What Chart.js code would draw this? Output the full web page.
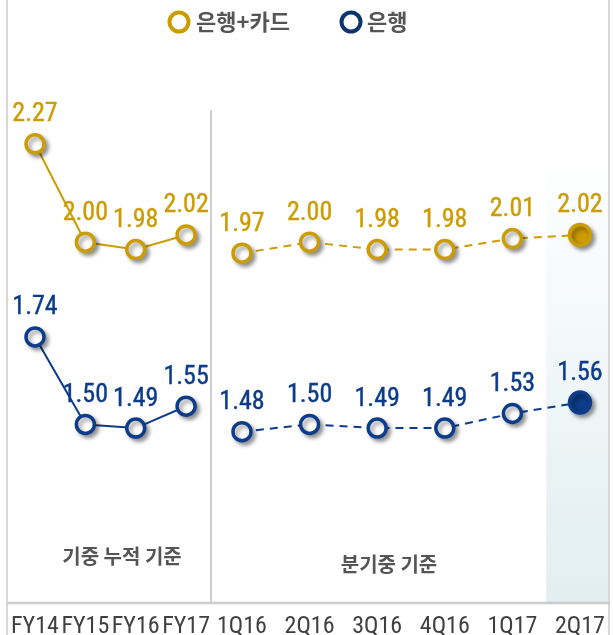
<!DOCTYPE html>
<html>
<head>
<meta charset="utf-8">
<script src="https://cdn.jsdelivr.net/npm/chart.js@4"></script>
<style>
  html, body { margin: 0; padding: 0; background: #ffffff; }
  #wrap { width: 613px; height: 635px; }
</style>
</head>
<body>
<div id="wrap"><canvas id="c" width="613" height="635"></canvas></div>
<script>
// ---- data ----
const categories = ['FY14','FY15','FY16','FY17','1Q16','2Q16','3Q16','4Q16','1Q17','2Q17'];
const bankCard = [2.27, 2.00, 1.98, 2.02, 1.97, 2.00, 1.98, 1.98, 2.01, 2.02];
const bank     = [1.74, 1.50, 1.49, 1.55, 1.48, 1.50, 1.49, 1.49, 1.53, 1.56];
const seriesNames = ['은행+카드', '은행'];
const groupLabels = ['기중 누적 기준', '분기중 기준'];

// ---- style / layout ----
const GOLD = '#cc9c05';
const BLUE = '#0d3c8a';
const NARROW = "'Liberation Sans Narrow', 'Roboto Condensed', 'DejaVu Sans Condensed', sans-serif";
const KR = "'Noto Sans CJK KR', 'Noto Sans', sans-serif";

// x layout: cumulative group is narrower than the quarterly group
function xPos(i) { return i < 4 ? i * 0.748 : 3.074 + (i - 4) * 1.004; }
const toPts = arr => arr.map((v, i) => ({ x: xPos(i), y: v }));

function lineDs(values, color) {
  return {
    data: toPts(values),
    borderColor: color,
    borderWidth: 2,
    pointRadius: 0,
    pointHoverRadius: 0,
    fill: false,
    tension: 0,
    segment: {
      borderColor: c => c.p0DataIndex === 3 ? 'rgba(0,0,0,0)' : color,
      borderDash: c => c.p0DataIndex >= 4 ? [8, 6] : undefined
    },
    order: 2
  };
}
function pointDs(values, color) {
  const n = values.length;
  return {
    data: toPts(values),
    showLine: false,
    borderColor: color,
    pointBorderColor: color,
    pointBackgroundColor: values.map((v, i) => i === n - 1 ? color : '#ffffff'),
    pointRadius: values.map((v, i) => i === n - 1 ? 10.5 : 9),
    pointHoverRadius: values.map((v, i) => i === n - 1 ? 10.5 : 9),
    pointBorderWidth: 3.5,
    pointHoverBorderWidth: 3.5,
    isPoints: true,
    labelColor: color,
    order: 1
  };
}

const decor = {
  id: 'decor',
  beforeDatasetsDraw(chart) {
    const { ctx, chartArea: ca, scales: { x } } = chart;
    ctx.save();
    // highlighted last column
    const sx = x.getPixelForValue((xPos(8) + xPos(9)) / 2);
    const g = ctx.createLinearGradient(0, 153, 0, ca.bottom);
    g.addColorStop(0, 'rgba(255,255,255,1)');
    g.addColorStop(1, '#e1eef0');
    ctx.fillStyle = g;
    ctx.fillRect(sx, 153, 609 - sx, ca.bottom - 153);
    // separator between groups
    const mx = x.getPixelForValue((xPos(3) + xPos(4)) / 2) - 3;
    ctx.strokeStyle = '#cfcfcf';
    ctx.lineWidth = 2;
    ctx.beginPath();
    ctx.moveTo(mx, 110);
    ctx.lineTo(mx, ca.bottom);
    ctx.stroke();
    // group captions
    ctx.fillStyle = '#555555';
    ctx.font = 'bold 20px ' + KR;
    ctx.textAlign = 'center';
    ctx.textBaseline = 'middle';
    ctx.fillText(groupLabels[0], 122, 556);
    ctx.fillText(groupLabels[1], 389, 564);
    ctx.restore();
  },
  beforeDatasetDraw(chart, args) {
    const ds = chart.data.datasets[args.index];
    if (ds.isPoints) {
      const ctx = chart.ctx;
      ctx.save();
      ctx.shadowColor = 'rgba(0,0,0,0.38)';
      ctx.shadowBlur = 4;
      ctx.shadowOffsetX = 3;
      ctx.shadowOffsetY = 3;
    }
  },
  afterDatasetDraw(chart, args) {
    const ds = chart.data.datasets[args.index];
    if (ds.isPoints) chart.ctx.restore();
  },
  afterDatasetsDraw(chart) {
    const ctx = chart.ctx;
    ctx.save();
    ctx.font = '26px ' + NARROW;
    ctx.textAlign = 'center';
    ctx.textBaseline = 'middle';
    ctx.lineWidth = 0.4;
    chart.data.datasets.forEach((ds, di) => {
      if (!ds.isPoints) return;
      const meta = chart.getDatasetMeta(di);
      meta.data.forEach((pt, i) => {
        const t = ds.data[i].y.toFixed(2);
        ctx.fillStyle = ds.labelColor;
        ctx.strokeStyle = ds.labelColor;
        ctx.fillText(t, pt.x, pt.y - 29);
        ctx.strokeText(t, pt.x, pt.y - 29);
      });
    });
    ctx.restore();
  },
  afterDraw(chart) {
    const { ctx, chartArea: ca } = chart;
    ctx.save();
    // frame
    ctx.strokeStyle = '#d9d9d9';
    ctx.lineWidth = 2;
    ctx.beginPath();
    ctx.moveTo(7, 0); ctx.lineTo(7, 635);
    ctx.moveTo(609, 0); ctx.lineTo(609, 635);
    ctx.stroke();
    ctx.strokeStyle = '#cccccc';
    ctx.lineWidth = 2.5;
    ctx.beginPath();
    ctx.moveTo(7, ca.bottom); ctx.lineTo(610, ca.bottom);
    ctx.stroke();
    // legend
    const items = [
      { name: seriesNames[0], color: GOLD, cx: 179, tx: 196 },
      { name: seriesNames[1], color: '#0c3570', cx: 351, tx: 367 }
    ];
    ctx.font = 'bold 22px ' + KR;
    ctx.textAlign = 'left';
    ctx.textBaseline = 'middle';
    items.forEach(it => {
      ctx.strokeStyle = it.color;
      ctx.lineWidth = 4;
      ctx.beginPath();
      ctx.arc(it.cx, 22, 9.5, 0, Math.PI * 2);
      ctx.stroke();
      ctx.fillStyle = '#555555';
      ctx.fillText(it.name, it.tx, 22);
    });
    ctx.restore();
  }
};

new Chart(document.getElementById('c'), {
  type: 'line',
  data: {
    datasets: [
      lineDs(bankCard, GOLD),
      lineDs(bank, BLUE),
      pointDs(bankCard, GOLD),
      pointDs(bank, BLUE)
    ]
  },
  options: {
    responsive: false,
    animation: false,
    events: [],
    layout: { autoPadding: false, padding: { top: 60, left: 8, right: 4, bottom: 0 } },
    plugins: { legend: { display: false }, tooltip: { enabled: false } },
    scales: {
      x: {
        type: 'linear',
        min: -0.401,
        max: 8.525,
        afterBuildTicks: s => { s.ticks = categories.map((c, i) => ({ value: xPos(i) })); },
        afterFit: s => { s.height = 32; s.paddingLeft = 0; s.paddingRight = 0; },
        grid: { display: false, drawTicks: false },
        border: { display: false },
        ticks: {
          autoSkip: false,
          maxRotation: 0,
          padding: 10,
          color: '#404040',
          font: { family: NARROW, size: 24 },
          callback: (v, i) => categories[i]
        }
      },
      y: {
        display: false,
        min: 1.01,
        max: 2.5
      }
    }
  },
  plugins: [decor]
});
</script>
</body>
</html>
